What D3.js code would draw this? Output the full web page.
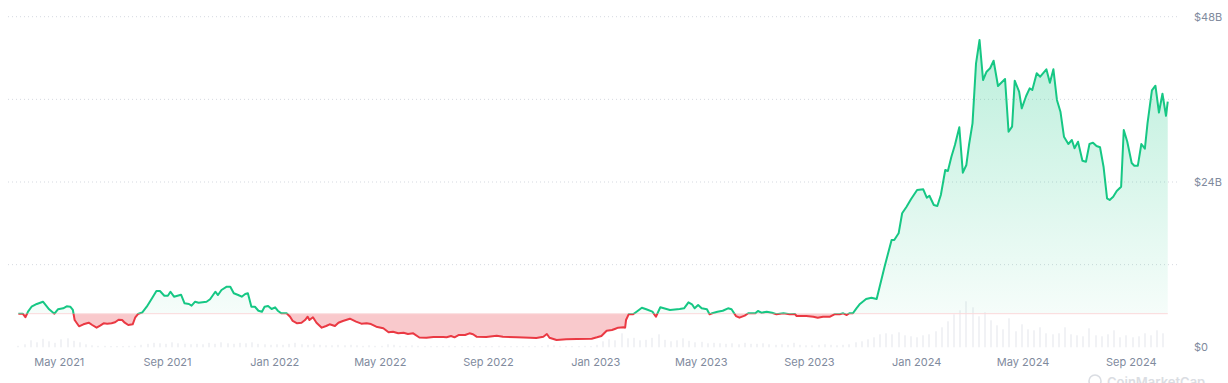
<!DOCTYPE html>
<html>
<head>
<meta charset='UTF-8'>
<title>Market cap chart</title>
<script src='https://d3js.org/d3.v7.min.js'></script>
<style>
  body { margin: 0; background: #fff; }
  text { font-family: Inter, 'Noto Sans', sans-serif; }
</style>
</head>
<body>
<svg id='chart' width='1228' height='383'></svg>

<script type='text/javascript'>
// market cap trace, $B
var capDates = [
  '2021-03-16','2021-03-21','2021-03-24','2021-03-27','2021-03-31','2021-04-06','2021-04-13','2021-04-20','2021-04-26','2021-04-30',
  '2021-05-06','2021-05-10','2021-05-14','2021-05-17','2021-05-19','2021-05-24','2021-05-29','2021-06-04','2021-06-08','2021-06-13',
  '2021-06-17','2021-06-21','2021-06-25','2021-06-30','2021-07-04','2021-07-08','2021-07-12','2021-07-15','2021-07-19','2021-07-24',
  '2021-07-27','2021-07-30','2021-08-04','2021-08-09','2021-08-15','2021-08-20','2021-08-24','2021-08-29','2021-09-02','2021-09-05',
  '2021-09-09','2021-09-17','2021-09-21','2021-09-26','2021-09-29','2021-10-03','2021-10-07','2021-10-16','2021-10-20','2021-10-26',
  '2021-10-29','2021-11-02','2021-11-08','2021-11-12','2021-11-16','2021-11-21','2021-11-25','2021-11-29','2021-12-02','2021-12-06',
  '2021-12-10','2021-12-14','2021-12-18','2021-12-21','2021-12-25','2021-12-29','2022-01-02','2022-01-05','2022-01-09','2022-01-15',
  '2022-01-19','2022-01-22','2022-01-27','2022-02-01','2022-02-05','2022-02-08','2022-02-10','2022-02-14','2022-02-18','2022-02-24',
  '2022-03-01','2022-03-05','2022-03-11','2022-03-15','2022-03-20','2022-03-28','2022-04-04','2022-04-10','2022-04-16','2022-04-21',
  '2022-04-27','2022-05-05','2022-05-11','2022-05-16','2022-05-22','2022-05-28','2022-06-02','2022-06-08','2022-06-15','2022-06-23',
  '2022-07-01','2022-07-12','2022-07-16','2022-07-21','2022-07-25','2022-07-30','2022-08-06','2022-08-11','2022-08-15','2022-08-19',
  '2022-08-30','2022-09-11','2022-09-18','2022-10-04','2022-10-19','2022-10-26','2022-11-03','2022-11-07','2022-11-10','2022-11-18',
  '2022-11-29','2022-12-11','2022-12-28','2023-01-03','2023-01-08','2023-01-14','2023-01-20','2023-01-24','2023-01-27','2023-02-02',
  '2023-02-04','2023-02-05','2023-02-08','2023-02-13','2023-02-17','2023-02-23','2023-02-28','2023-03-07','2023-03-11','2023-03-16',
  '2023-03-27','2023-04-07','2023-04-12','2023-04-17','2023-04-21','2023-04-24','2023-04-28','2023-05-02','2023-05-08','2023-05-11',
  '2023-05-14','2023-05-20','2023-05-26','2023-06-01','2023-06-05','2023-06-10','2023-06-14','2023-06-20','2023-06-24','2023-07-02',
  '2023-07-05','2023-07-09','2023-07-15','2023-07-21','2023-07-26','2023-08-03','2023-08-10','2023-08-16','2023-08-18','2023-08-29',
  '2023-09-06','2023-09-11','2023-09-17','2023-09-25','2023-09-30','2023-10-06','2023-10-10','2023-10-14','2023-10-17','2023-10-21',
  '2023-10-25','2023-10-29','2023-11-05','2023-11-11','2023-11-17','2023-11-26','2023-12-04','2023-12-07','2023-12-12','2023-12-16',
  '2023-12-21','2023-12-26','2024-01-02','2024-01-09','2024-01-13','2024-01-16','2024-01-21','2024-01-25','2024-01-29','2024-02-03',
  '2024-02-06','2024-02-10','2024-02-14','2024-02-19','2024-02-23','2024-02-27','2024-03-01','2024-03-05','2024-03-09','2024-03-13',
  '2024-03-17','2024-03-21','2024-03-25','2024-03-29','2024-04-03','2024-04-11','2024-04-15','2024-04-19','2024-04-22','2024-04-27',
  '2024-04-30','2024-05-05','2024-05-09','2024-05-12','2024-05-17','2024-05-21','2024-05-28','2024-06-01','2024-06-05','2024-06-09',
  '2024-06-13','2024-06-17','2024-06-22','2024-06-26','2024-06-29','2024-07-03','2024-07-08','2024-07-12','2024-07-16','2024-07-20',
  '2024-07-24','2024-07-28','2024-08-01','2024-08-05','2024-08-08','2024-08-12','2024-08-16','2024-08-21','2024-08-24','2024-08-28',
  '2024-09-02','2024-09-05','2024-09-09','2024-09-13','2024-09-17','2024-09-20','2024-09-25','2024-09-29','2024-10-03','2024-10-07',
  '2024-10-11','2024-10-13'
];

var capValues = [
  4.88,4.88,4.36,5.17,5.89,6.29,6.62,5.52,4.88,5.52,
  5.66,5.95,5.89,5.42,3.96,3.05,3.34,3.57,3.24,2.85,
  3.14,3.48,3.43,3.48,3.63,4.01,3.96,3.57,3.24,3.34,
  4.36,4.83,5.08,5.89,7.11,8.17,8.17,7.49,7.49,8.07,
  7.35,7.64,6.39,6.29,6.04,6.62,6.48,6.62,6.97,8.07,
  7.59,8.32,8.80,8.80,7.84,7.59,7.35,7.74,7.84,5.89,
  5.89,5.31,5.17,5.89,6.00,5.56,5.81,5.31,4.94,4.94,
  4.44,3.82,3.48,3.57,3.96,4.44,3.96,4.36,3.57,2.85,
  3.09,3.34,3.09,3.57,3.82,4.15,3.72,3.43,3.48,3.38,
  2.99,2.76,2.18,2.26,2.03,2.12,1.93,2.03,1.42,1.39,
  1.50,1.50,1.45,1.64,1.45,1.79,1.79,2.03,1.89,1.54,
  1.50,1.68,1.54,1.45,1.39,1.35,1.54,1.93,1.39,1.06,
  1.16,1.21,1.25,1.45,1.64,2.41,2.51,2.70,2.85,2.90,
  2.85,3.96,4.79,4.79,5.17,5.75,5.52,5.17,4.44,5.81,
  5.42,5.56,5.66,6.53,6.24,5.66,6.14,5.66,5.52,4.79,
  4.94,5.17,5.31,5.66,5.52,4.54,4.30,4.59,4.94,4.94,
  5.27,5.02,5.17,5.02,4.79,4.94,4.79,4.83,4.54,4.54,
  4.44,4.30,4.44,4.44,4.79,4.79,4.94,4.69,4.94,4.94,
  5.66,6.29,7.01,7.20,7.01,11.70,15.58,15.58,16.55,19.46,
  20.41,21.49,22.84,22.94,21.72,22.01,20.66,20.52,22.11,25.74,
  25.60,27.67,29.37,31.94,25.35,26.47,29.37,32.52,41.23,44.62,
  38.81,40.02,40.51,41.61,37.94,38.95,31.30,32.03,38.71,37.11,
  34.70,36.49,37.60,37.36,39.78,39.29,40.36,38.42,40.36,35.91,
  34.21,30.58,29.52,30.10,28.89,29.85,27.09,26.95,29.52,29.71,
  29.23,29.04,26.22,21.63,21.39,21.87,22.69,23.32,31.55,29.85,
  26.76,26.37,26.37,29.52,28.84,32.52,37.31,37.98,34.09,36.81,
  33.61,35.66
];

// weekly volume, $B, first week starts 2021-03-16
var volStart = '2021-03-16';
var volValues = [
  0.3,0.6,
  1.4,1.0,1.7,1.2,0.9, 1.6,1.8,1.3,1.0, 0.6,0.4,0.3,0.3,0.2, 0.2,0.2,0.3,0.3,
  0.5,0.7,0.9,0.8,0.7, 1.0,0.8,0.7,0.6, 0.7,0.6,0.9,0.7, 1.0,0.8,0.7,0.9,0.8, 1.0,0.7,0.6,0.5,
  0.6,0.5,0.7,0.9,0.6, 0.5,0.6,0.5,0.4, 0.4,0.5,0.4,0.5, 0.4,0.3,0.4,0.3,0.3, 0.6,0.5,0.3,0.3,
  0.4,0.3,0.2,0.2, 0.2,0.2,0.3,0.2,0.2, 0.2,0.2,0.2,0.2, 0.2,0.3,0.2,0.2, 0.2,0.2,0.2,0.2,0.2,
  0.5,0.4,0.3,0.2, 0.2,0.2,0.3,0.2,
  0.5,1.2,1.6,1.4,2.8, 1.8,1.9,1.4,1.5, 1.9,2.6,1.5,1.2, 1.4,1.8,1.3,1.0,1.1, 0.8,0.9,0.8,0.7,
  0.8,0.6,0.9,0.7, 0.7,0.8,0.6,0.5,0.6, 0.5,0.9,0.5,0.4, 0.4,0.5,0.6,0.5, 0.4,0.5,0.6,1.0,1.2,
  1.6,2.0,2.6,2.8, 2.6,3.0,2.4,2.2,2.0,
  2.4,2.6,3.2,4.0, 5.2,6.6,7.4,9.2, 8.0,6.2,7.0,5.4,4.4, 3.6,5.8,3.2,4.6, 3.6,3.4,4.0,2.8,2.6,
  2.8,4.0,2.6,2.4, 2.2,3.8,2.4,2.2, 2.6,3.4,2.0,2.4,2.0, 2.2,2.8,2.4,3.4, 2.8
];

var xTickLabels = ['May 2021', 'Sep 2021', 'Jan 2022', 'May 2022', 'Sep 2022', 'Jan 2023',
                   'May 2023', 'Sep 2023', 'Jan 2024', 'May 2024', 'Sep 2024'];
var gridValues = [12, 24, 36, 48];
var yTickValues = [0, 24, 48];

var parseDay = d3.utcParse('%Y-%m-%d'),
    parseMonth = d3.utcParse('%b %Y');

var data = capDates.map(function(d, i) { return { date: parseDay(d), value: capValues[i] }; });
var t0 = parseDay(volStart);
var vols = volValues.map(function(v, i) { return { date: d3.utcDay.offset(t0, 7 * i), value: v }; });

var baseline = capValues[0];

var svg = d3.select('#chart');

var x = d3.scaleUtc()
    .domain([parseMonth('May 2021'), parseMonth('Sep 2024')])
    .range([58.8, 1130.8]);
var y = d3.scaleLinear().domain([0, 48]).range([347.3, 16.7]);
var yVol = d3.scaleLinear().domain([0, 10]).range([347.3, 297.3]);

var gridLeft = 8, gridRight = 1178;

var defs = svg.append('defs');
var grad = defs.append('linearGradient')
    .attr('id', 'upFill')
    .attr('gradientUnits', 'userSpaceOnUse')
    .attr('x1', 0).attr('x2', 0)
    .attr('y1', y(d3.max(capValues))).attr('y2', y(baseline));
grad.append('stop').attr('offset', '0%').attr('stop-color', '#16c784').attr('stop-opacity', 0.29);
grad.append('stop').attr('offset', '100%').attr('stop-color', '#16c784').attr('stop-opacity', 0.04);

defs.append('clipPath').attr('id', 'clipUp')
  .append('rect').attr('x', 0).attr('y', 0).attr('width', 1228).attr('height', y(baseline));
defs.append('clipPath').attr('id', 'clipDown')
  .append('rect').attr('x', 0).attr('y', y(baseline)).attr('width', 1228).attr('height', 383 - y(baseline));

// dotted grid
svg.append('g').selectAll('line')
  .data(gridValues)
  .enter().append('line')
    .attr('x1', gridLeft).attr('x2', gridRight)
    .attr('y1', function(d) { return y(d); })
    .attr('y2', function(d) { return y(d); })
    .attr('stroke', '#d5d9e0')
    .attr('stroke-width', 1)
    .attr('stroke-dasharray', '1,3');

// volume bars
svg.append('g').selectAll('rect')
  .data(vols)
  .enter().append('rect')
    .attr('x', function(d) { return Math.round(x(d.date)) - 0.5; })
    .attr('y', function(d) { return Math.min(yVol(d.value), 346); })
    .attr('width', 1)
    .attr('height', function(d) { return Math.max(yVol(0) - yVol(d.value), 1.3); })
    .attr('fill', '#e3e6ec');

// fills
var area = d3.area()
    .x(function(d) { return x(d.date); })
    .y0(y(baseline))
    .y1(function(d) { return y(d.value); });

svg.append('path').datum(data)
    .attr('d', area)
    .attr('fill', 'url(#upFill)')
    .attr('clip-path', 'url(#clipUp)');
svg.append('path').datum(data)
    .attr('d', area)
    .attr('fill', 'rgba(234,57,67,0.27)')
    .attr('clip-path', 'url(#clipDown)');

// baseline
svg.append('line')
    .attr('x1', x(data[0].date)).attr('x2', x(data[data.length - 1].date))
    .attr('y1', y(baseline)).attr('y2', y(baseline))
    .attr('stroke', '#fbdadc')
    .attr('stroke-width', 1);

// line
var line = d3.line()
    .x(function(d) { return x(d.date); })
    .y(function(d) { return y(d.value); });

svg.append('path').datum(data)
    .attr('d', line)
    .attr('fill', 'none')
    .attr('stroke', '#16c784')
    .attr('stroke-width', 2)
    .attr('stroke-linejoin', 'round')
    .attr('clip-path', 'url(#clipUp)');
svg.append('path').datum(data)
    .attr('d', line)
    .attr('fill', 'none')
    .attr('stroke', '#ea3943')
    .attr('stroke-width', 2)
    .attr('stroke-linejoin', 'round')
    .attr('clip-path', 'url(#clipDown)');

// x axis
var xAxis = svg.append('g')
    .attr('transform', 'translate(0,358)')
    .call(d3.axisBottom(x)
        .tickValues(xTickLabels.map(function(s) { return parseMonth(s); }))
        .tickFormat(d3.utcFormat('%b %Y'))
        .tickSize(0)
        .tickPadding(0));
xAxis.select('.domain').remove();
xAxis.selectAll('text')
    .attr('dy', '0.71em')
    .attr('fill', '#808a9d')
    .style('font-size', '11px')
    .style('font-family', 'Inter, sans-serif');

// y axis
var yAxis = svg.append('g')
    .attr('transform', 'translate(1194,0)')
    .call(d3.axisRight(y)
        .tickValues(yTickValues)
        .tickFormat(function(d) { return d === 0 ? '$0' : '$' + d + 'B'; })
        .tickSize(0)
        .tickPadding(0));
yAxis.select('.domain').remove();
yAxis.selectAll('text')
    .attr('fill', '#808a9d')
    .style('font-size', '11px')
    .style('font-family', 'Inter, sans-serif');

// watermark
var wm = svg.append('g').attr('opacity', 0.9);
wm.append('circle')
    .attr('cx', 1095).attr('cy', 381).attr('r', 6)
    .attr('fill', 'none').attr('stroke', '#d7dae0').attr('stroke-width', 1.6);
wm.append('text')
    .attr('x', 1107).attr('y', 387)
    .attr('fill', '#d7dae0')
    .style('font-size', '13px')
    .style('font-weight', '600')
    .text('CoinMarketCap');
</script>
</body>
</html>
